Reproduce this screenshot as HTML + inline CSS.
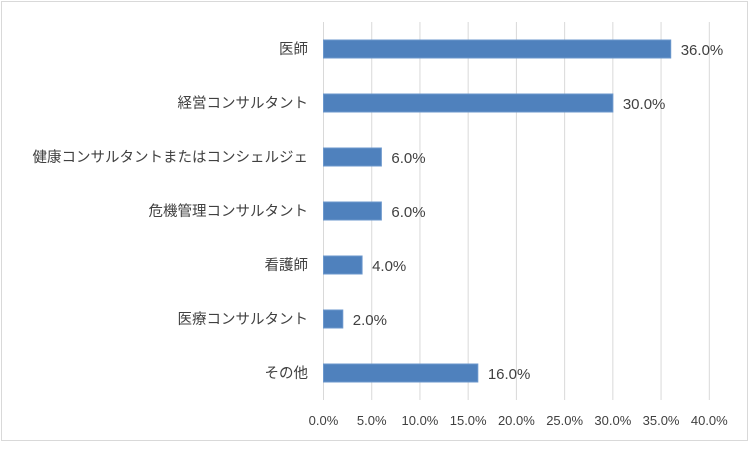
<!DOCTYPE html>
<html><head><meta charset="utf-8"><style>
body{margin:0;background:#fff}
svg text{font-family:"Liberation Sans","Noto Sans CJK JP",sans-serif;fill:#404040}
</style></head><body>
<svg width="750" height="444" id="c">
<rect x="1.5" y="1.5" width="746" height="439" fill="#fff" stroke="#d9d9d9"/>
</svg>
<script>
const categories=["医師","経営コンサルタント","健康コンサルタントまたはコンシェルジェ","危機管理コンサルタント","看護師","医療コンサルタント","その他"];
const values=[36,30,6,6,4,2,16];
const ticks=[0,5,10,15,20,25,30,35,40];
(function(){
const svg=document.getElementById('c');
const NS='http://www.w3.org/2000/svg';
const x0=323.5,x1=709.3,xmax=40,plotTop=22,plotBottom=400;
const xs=v=>x0+(x1-x0)*v/xmax;
const band=(plotBottom-plotTop)/categories.length;
function mk(t,a){const e=document.createElementNS(NS,t);for(const k in a)e.setAttribute(k,a[k]);svg.appendChild(e);return e;}
ticks.forEach(t=>{
 const l=mk('line',{x1:xs(t),x2:xs(t),y1:plotTop,y2:plotBottom,stroke:'#d9d9d9','stroke-width':1});
 
 
 const tx=mk('text',{x:xs(t),y:425,'text-anchor':'middle','font-size':13});
 tx.textContent=t.toFixed(1)+'%';
 
 
});
categories.forEach((c,i)=>{
 const cy=plotTop+band*(i+0.5);
 const r=mk('rect',{x:xs(0),y:cy-9,width:xs(values[i])-xs(0),height:18,fill:'#4f81bd',stroke:'#6b97cc','stroke-width':1});
 
 
 const lb=mk('text',{x:xs(values[i])+10,y:cy+6,'font-size':15});
 lb.textContent=values[i].toFixed(1)+'%';
 
 
 const cl=mk('text',{x:308,y:cy+5,'text-anchor':'end','font-size':14.5});
 cl.textContent=c;
 
 
});
})();
</script>
</body></html>
